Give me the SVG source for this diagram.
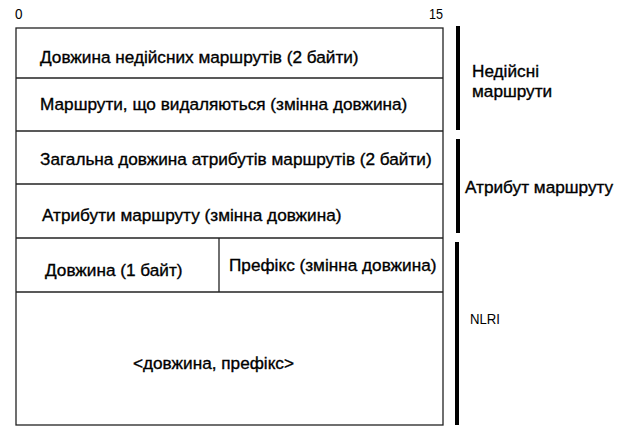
<svg xmlns="http://www.w3.org/2000/svg" width="619" height="432" viewBox="0 0 619 432">
<style>
text{font-family:"Liberation Sans",Arial,sans-serif;fill:#000}
.t{font-size:17.2px;stroke:#000;stroke-width:0.35}
.s{font-size:15.4px}
.ln{stroke:#222;stroke-width:1.3;fill:none}
.bar{fill:#000}
</style>
<rect width="619" height="432" fill="#fff"/>
<g id="scale">
<text class="s" x="15" y="19" textLength="7.5" lengthAdjust="spacingAndGlyphs">0</text>
<text class="s" x="429" y="19" textLength="14" lengthAdjust="spacingAndGlyphs">15</text>
</g>
<g id="frame">
<rect class="ln" x="16" y="28" width="427" height="397"/>
</g>
<g id="connectors">
<line class="ln" x1="16" y1="78" x2="443" y2="78"/>
<line class="ln" x1="16" y1="131" x2="443" y2="131"/>
<line class="ln" x1="16" y1="184" x2="443" y2="184"/>
<line class="ln" x1="16" y1="238" x2="443" y2="238"/>
<line class="ln" x1="16" y1="292" x2="443" y2="292"/>
<line class="ln" x1="219" y1="238" x2="219" y2="292"/>
</g>
<g id="row1"><text class="t" x="40" y="63">Довжина недійсних маршрутів (2 байти)</text></g>
<g id="row2"><text class="t" x="40" y="110">Маршрути, що видаляються (змінна довжина)</text></g>
<g id="row3"><text class="t" x="40" y="165">Загальна довжина атрибутів маршрутів (2 байти)</text></g>
<g id="row4"><text class="t" x="42" y="221">Атрибути маршруту (змінна довжина)</text></g>
<g id="row5a"><text class="t" x="45" y="276">Довжина (1 байт)</text></g>
<g id="row5b"><text class="t" x="229" y="271">Префікс (змінна довжина)</text></g>
<g id="row6"><text class="t" x="133" y="369">&lt;довжина, префікс&gt;</text></g>
<g id="group1">
<rect class="bar" x="456" y="26" width="4" height="104"/>
<text class="t" x="472" y="77">Недійсні</text>
<text class="t" x="472" y="97">маршрути</text>
</g>
<g id="group2">
<rect class="bar" x="456" y="139" width="4" height="94"/>
<text class="t" x="465" y="193">Атрибут маршруту</text>
</g>
<g id="group3">
<rect class="bar" x="455" y="242" width="4" height="183"/>
<text class="s" x="470" y="324" textLength="30" lengthAdjust="spacingAndGlyphs">NLRI</text>
</g>
</svg>
